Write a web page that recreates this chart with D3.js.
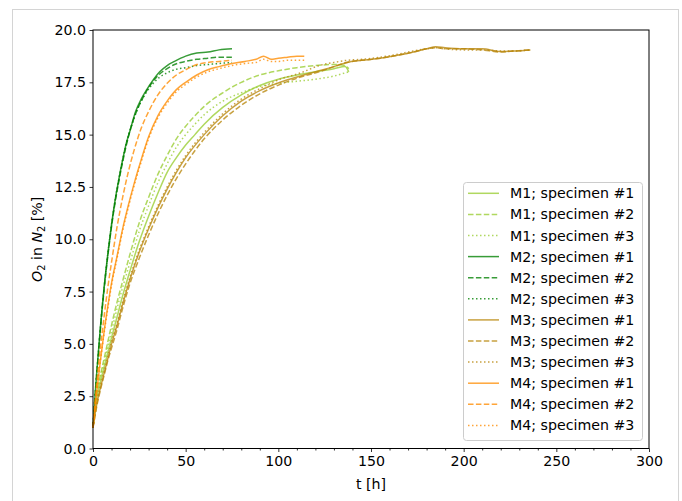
<!DOCTYPE html>
<html>
<head>
<meta charset="utf-8">
<script src="https://cdn.jsdelivr.net/npm/d3@7"></script>
<style>
  body { margin: 0; background: #fff; }
  svg { display: block; font-family: "DejaVu Sans", sans-serif; }
</style>
</head>
<body>
<svg width="682" height="501"></svg>
<script>
// Time grids [h] per material
const tM1 = [0, 1, 2, 4, 6, 8, 10, 13, 16, 20, 25, 30, 35, 40, 45, 50, 55, 60, 70, 80, 90, 100, 110, 120, 130, 136, 138];
const tM2 = [0, 1, 2, 3, 4, 6, 8, 10, 12, 14, 16, 18, 20, 23, 26, 29, 32, 36, 40, 44, 50, 56, 62, 68, 75];
const tM3 = [0, 1, 2, 4, 6, 8, 10, 13, 16, 20, 25, 30, 35, 40, 45, 50, 60, 70, 80, 90, 101, 112, 122, 130, 137, 145, 155, 165, 173, 180, 185, 190, 200, 210, 220, 228, 236];
const tM4 = [0, 1, 2, 4, 6, 8, 10, 13, 16, 19, 22, 26, 30, 35, 40, 45, 50, 56, 62, 68, 75, 82, 88, 92, 96, 100, 105, 110, 114];

// O2 in N2 [%]
const o2M1s1 = [1.0, 1.8, 2.4, 3.2, 3.9, 4.6, 5.3, 6.3, 7.3, 8.5, 9.9, 11.1, 12.2, 13.2, 13.9, 14.5, 15.0, 15.5, 16.3, 16.9, 17.35, 17.65, 17.85, 18.0, 18.15, 18.25, 18.0];
const o2M1s2 = [1.0, 1.9, 2.6, 3.5, 4.3, 5.1, 5.9, 7.0, 8.0, 9.3, 10.8, 12.0, 13.1, 14.0, 14.8, 15.4, 15.9, 16.35, 17.0, 17.5, 17.85, 18.05, 18.2, 18.3, 18.35, 18.3, 18.15];
const o2M1s3 = [1.0, 1.9, 2.5, 3.4, 4.1, 4.9, 5.6, 6.7, 7.7, 8.9, 10.4, 11.6, 12.7, 13.6, 14.4, 15.0, 15.5, 15.95, 16.6, 17.0, 17.3, 17.45, 17.55, 17.65, 17.8, 17.95, 18.0];

const o2M2s1 = [1.0, 2.4, 3.6, 4.7, 5.8, 7.7, 9.3, 10.7, 11.9, 12.9, 13.8, 14.6, 15.2, 16.1, 16.7, 17.15, 17.55, 18.0, 18.3, 18.5, 18.75, 18.9, 18.95, 19.05, 19.1];
const o2M2s2 = [1.0, 2.3, 3.5, 4.6, 5.7, 7.6, 9.2, 10.6, 11.8, 12.8, 13.7, 14.5, 15.2, 16.0, 16.6, 17.1, 17.5, 17.9, 18.15, 18.35, 18.5, 18.6, 18.65, 18.7, 18.7];
const o2M2s3 = [1.0, 2.4, 3.6, 4.7, 5.8, 7.7, 9.3, 10.7, 11.9, 12.9, 13.8, 14.6, 15.2, 16.0, 16.6, 17.05, 17.4, 17.75, 17.95, 18.1, 18.2, 18.3, 18.35, 18.4, 18.45];

const o2M3s1 = [1.0, 1.6, 2.1, 2.9, 3.6, 4.3, 5.0, 5.9, 6.9, 8.1, 9.4, 10.5, 11.5, 12.4, 13.2, 13.9, 15.0, 15.9, 16.6, 17.1, 17.5, 17.8, 18.05, 18.25, 18.45, 18.55, 18.65, 18.8, 18.95, 19.1, 19.2, 19.15, 19.1, 19.1, 18.97, 19.0, 19.05];
const o2M3s2 = [1.0, 1.5, 2.0, 2.8, 3.5, 4.2, 4.8, 5.7, 6.7, 7.9, 9.1, 10.2, 11.2, 12.1, 12.9, 13.6, 14.8, 15.7, 16.4, 16.95, 17.4, 17.75, 18.0, 18.25, 18.45, 18.55, 18.65, 18.8, 18.95, 19.1, 19.15, 19.1, 19.1, 19.05, 18.95, 19.0, 19.05];
const o2M3s3 = [1.0, 1.6, 2.2, 3.0, 3.7, 4.4, 5.1, 6.0, 7.0, 8.2, 9.5, 10.6, 11.6, 12.5, 13.3, 14.0, 15.1, 16.0, 16.7, 17.2, 17.65, 17.95, 18.3, 18.45, 18.55, 18.6, 18.7, 18.85, 19.0, 19.1, 19.15, 19.1, 19.05, 19.05, 19.0, 19.0, 19.05];

const o2M4s1 = [1.0, 1.9, 2.7, 4.2, 5.6, 6.8, 7.9, 9.2, 10.5, 11.6, 12.6, 13.8, 14.9, 15.9, 16.6, 17.15, 17.5, 17.85, 18.1, 18.25, 18.4, 18.5, 18.6, 18.75, 18.6, 18.65, 18.7, 18.75, 18.75];
const o2M4s2 = [1.0, 2.1, 3.1, 4.8, 6.3, 7.7, 8.9, 10.6, 12.0, 13.2, 14.2, 15.3, 16.1, 16.9, 17.45, 17.85, 18.1, 18.35, 18.45, 18.5, 18.55];
const o2M4s3 = [1.0, 1.9, 2.7, 4.2, 5.5, 6.7, 7.8, 9.1, 10.4, 11.5, 12.5, 13.7, 14.8, 15.8, 16.5, 17.05, 17.4, 17.75, 18.0, 18.15, 18.3, 18.4, 18.45, 18.6, 18.5, 18.5, 18.55, 18.55, 18.55];

const materials = ["M1", "M2", "M3", "M4"];
const specimens = ["specimen #1", "specimen #2", "specimen #3"];
const materialColors = ["yellowgreen", "green", "darkgoldenrod", "darkorange"];
const xTicks = [0, 50, 100, 150, 200, 250, 300];
const yTicks = [0, 2.5, 5, 7.5, 10, 12.5, 15, 17.5, 20];

const grids = [tM1, tM2, tM3, tM4];
const values = [
    [o2M1s1, o2M1s2, o2M1s3],
    [o2M2s1, o2M2s2, o2M2s3],
    [o2M3s1, o2M3s2, o2M3s3],
    [o2M4s1, o2M4s2, o2M4s3]
];
const dashes = [null, "5.5,2.4", "1.5,2.5"];

// Build the series list in plotting order.
const series = [];
materials.forEach((m, i) => {
    specimens.forEach((s, j) => {
        const v = values[i][j];
        series.push({
            label: `${m}; ${s}`,
            color: materialColors[i],
            dash: dashes[j],
            points: v.map((y, k) => ({ t: grids[i][k], y: y }))
        });
    });
});

const svg = d3.select("svg");
const margin = { left: 93, right: 33, top: 30, bottom: 52.5 };
const W = 682, H = 501;

// Outer light frame
svg.append("rect")
    .attr("x", 12.5).attr("y", 9.5)
    .attr("width", 666).attr("height", 520)
    .attr("fill", "none")
    .attr("stroke", "#d4d4d4");

const x = d3.scaleLinear().domain([0, 300]).range([margin.left, W - margin.right]);
const y = d3.scaleLinear().domain([0, 20]).range([H - margin.bottom, margin.top]);

const line = d3.line()
    .x(d => x(d.t))
    .y(d => y(d.y))
    .curve(d3.curveMonotoneX);

const lineAlpha = 0.78;

// Curves
svg.append("g")
    .selectAll("path")
    .data(series)
    .join("path")
    .attr("d", d => line(d.points))
    .attr("fill", "none")
    .attr("stroke", d => d.color)
    .attr("stroke-opacity", lineAlpha)
    .attr("stroke-width", 1.5)
    .attr("stroke-dasharray", d => d.dash);

// Axes
const fontSize = "14.2px";

svg.append("g")
    .attr("transform", `translate(0,${y(0)})`)
    .call(d3.axisBottom(x).tickValues(xTicks).tickFormat(d3.format("d"))
        .tickSize(3.5).tickPadding(3.5).tickSizeOuter(0));

// minor x ticks every 10 h
svg.append("g")
    .attr("transform", `translate(0,${y(0)})`)
    .call(d3.axisBottom(x).tickValues(d3.range(10, 300, 10).filter(v => v % 50 !== 0))
        .tickFormat("").tickSize(2).tickSizeOuter(0));

svg.append("g")
    .attr("transform", `translate(${x(0)},0)`)
    .call(d3.axisLeft(y).tickValues(yTicks).tickFormat(d3.format(".1f"))
        .tickSize(3.5).tickPadding(3.5).tickSizeOuter(0));

svg.selectAll(".tick text")
    .attr("font-family", "DejaVu Sans")
    .attr("font-size", fontSize)
    .attr("fill", "#000");
svg.selectAll(".tick line").attr("stroke", "#000").attr("stroke-width", 0.8);
svg.selectAll(".domain").remove();

// Spines
svg.append("rect")
    .attr("x", x(0)).attr("y", y(20))
    .attr("width", x(300) - x(0)).attr("height", y(0) - y(20))
    .attr("fill", "none")
    .attr("stroke", "#000")
    .attr("stroke-width", 1);

// Axis labels
svg.append("text")
    .attr("x", (x(0) + x(300)) / 2)
    .attr("y", 489)
    .attr("text-anchor", "middle")
    .attr("font-size", fontSize)
    .text("t [h]");

const yl = svg.append("text")
    .attr("transform", `translate(42,${(y(0) + y(20)) / 2}) rotate(-90)`)
    .attr("text-anchor", "middle")
    .attr("font-size", fontSize);
yl.append("tspan").attr("font-style", "italic").text("O");
yl.append("tspan").attr("font-size", "9.8px").attr("dy", 3).text("2");
yl.append("tspan").attr("dy", -3).text(" in ");
yl.append("tspan").attr("font-style", "italic").text("N");
yl.append("tspan").attr("font-size", "9.8px").attr("dy", 3).text("2");
yl.append("tspan").attr("dy", -3).text(" [%]");

// Legend
const legend = svg.append("g");
legend.append("rect")
    .attr("x", 463.5).attr("y", 182.5)
    .attr("width", 179).attr("height", 258)
    .attr("rx", 3)
    .attr("fill", "#fff")
    .attr("fill-opacity", 0.8)
    .attr("stroke", "#ccc");

const rowH = 21.1;
const item = legend.selectAll("g.item")
    .data(series)
    .join("g")
    .attr("class", "item")
    .attr("transform", (d, i) => `translate(0,${193.3 + i * rowH})`);

item.append("line")
    .attr("x1", 468).attr("x2", 499)
    .attr("stroke", d => d.color)
    .attr("stroke-opacity", lineAlpha)
    .attr("stroke-width", 1.5)
    .attr("stroke-dasharray", d => d.dash);

item.append("text")
    .attr("x", 510)
    .attr("y", 5)
    .attr("font-size", fontSize)
    .text(d => d.label);
</script>
</body>
</html>
